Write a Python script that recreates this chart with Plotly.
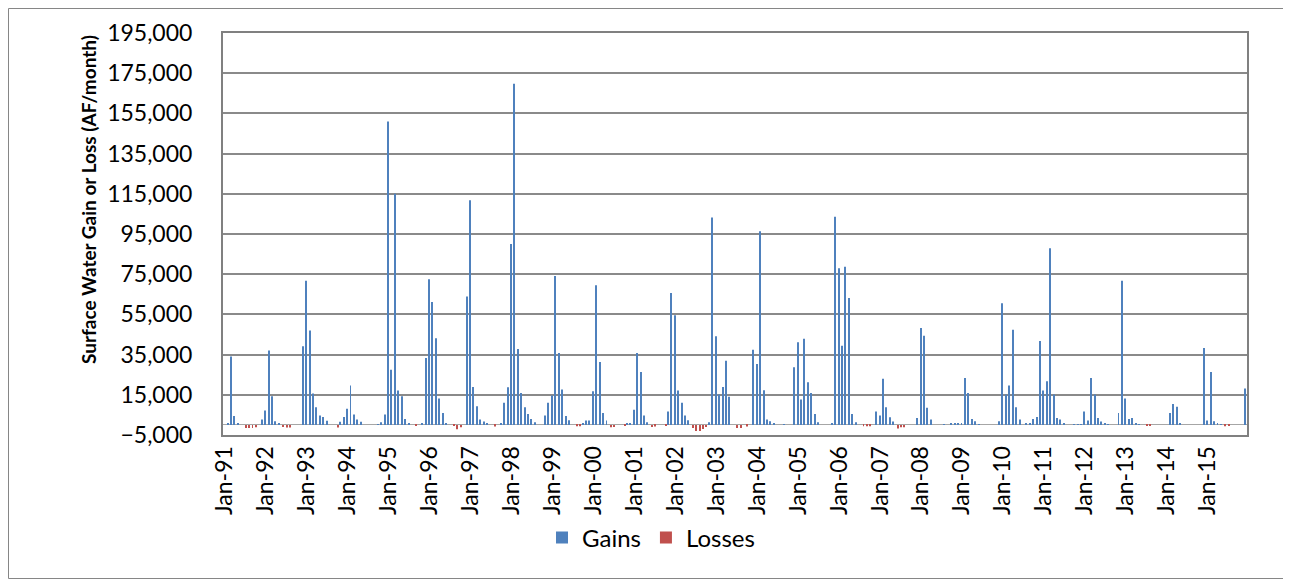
import pandas as pd
import plotly.graph_objects as go

# ── Monthly series, Jan-1991 .. Dec-2015 (AF/month), one row per year ──
months = pd.date_range("1991-01-01", periods=300, freq="MS").strftime("%b-%y").tolist()

gains = [
    0, 700, 34000, 4400, 700, 0, 0, 0, 0, 0, 0, 2700,                              # 1991
    7200, 37000, 14300, 1900, 600, 0, 0, 0, 0, 0, 0, 39100,                        # 1992
    71700, 47000, 15600, 8800, 4700, 4000, 2100, 0, 0, 0, 1600, 4000,              # 1993
    8000, 19600, 5200, 2700, 1600, 0, 0, 0, 0, 300, 1400, 5200,                    # 1994
    151000, 27500, 115000, 17100, 14300, 3000, 600, 0, 0, 0, 700, 33300,           # 1995
    72500, 61200, 43100, 13100, 6000, 1000, 0, 0, 0, 0, 0, 63900,                  # 1996
    111800, 18900, 9300, 2700, 1700, 700, 0, 0, 0, 500, 11000, 18700,              # 1997
    90000, 169700, 37800, 15900, 8800, 5400, 3000, 1400, 0, 0, 4700, 11000,        # 1998
    14600, 74100, 35800, 17600, 4400, 2400, 0, 0, 0, 500, 2200, 2200,              # 1999
    16800, 69500, 31300, 6000, 2200, 0, 0, 0, 0, 0, 700, 1000,                     # 2000
    7600, 35800, 26400, 4700, 1400, 0, 0, 0, 0, 0, 6700, 65600,                    # 2001
    54600, 17100, 11000, 4700, 2400, 0, 0, 0, 0, 0, 1400, 103200,                  # 2002
    44100, 15100, 18900, 32000, 14000, 0, 0, 0, 0, 0, 0, 37400,                    # 2003
    30300, 96400, 17300, 2700, 1900, 1000, 0, 0, 300, 0, 0, 28700,                 # 2004
    41100, 12600, 42900, 21200, 15900, 5500, 1400, 0, 0, 0, 700, 103600,           # 2005
    77900, 39400, 78700, 63100, 5500, 1400, 0, 0, 0, 0, 0, 6700,                   # 2006
    4700, 23000, 8800, 3800, 1700, 0, 0, 0, 0, 0, 0, 3400,                         # 2007
    48200, 44400, 8500, 2700, 0, 0, 0, 300, 0, 1000, 1000, 1000,                   # 2008
    1000, 23400, 15900, 3000, 1900, 300, 0, 0, 0, 0, 0, 1900,                      # 2009
    60600, 15100, 19600, 47400, 8800, 2700, 0, 500, 500, 3000, 4000, 41800,        # 2010
    17100, 21700, 87900, 15100, 3500, 2700, 700, 0, 0, 300, 300, 300,              # 2011
    6700, 2200, 23400, 15100, 3500, 1700, 700, 300, 0, 0, 6000, 71800,             # 2012
    13100, 3000, 3500, 700, 300, 0, 0, 0, 0, 0, 0, 0,                              # 2013
    0, 6000, 10400, 9000, 600, 0, 0, 0, 0, 0, 0, 38300,                            # 2014
    2200, 26400, 1900, 600, 300, 0, 0, 0, 0, 0, 0, 18100,                          # 2015
]

losses = [
    0, 0, 0, 0, 0, 0, -1500, -1500, -1500, -1200, 0, 0,          # 1991
    0, 0, 0, 0, 0, -1000, -1300, -1300, 0, 0, 0, 0,              # 1992
    0, 0, 0, 0, 0, 0, 0, 0, 0, -1300, 0, 0,                      # 1993
    0, 0, 0, 0, 0, 0, 0, 0, 0, 0, 0, 0,                          # 1994
    0, 0, 0, 0, 0, 0, 0, 0, -300, 0, 0, 0,                       # 1995
    0, 0, 0, 0, 0, 0, 0, -500, -2200, -1200, 0, 0,               # 1996
    0, 0, 0, 0, 0, 0, 0, -800, 0, 0, 0, 0,                       # 1997
    0, 0, 0, 0, 0, 0, 0, 0, 0, 0, 0, 0,                          # 1998
    0, 0, 0, 0, 0, 0, 0, -600, -600, 0, 0, 0,                    # 1999
    0, 0, 0, 0, 0, -1200, -1000, 0, 0, -500, 0, 0,               # 2000
    0, 0, 0, 0, 0, -1000, -800, 0, 0, -400, 0, 0,                # 2001
    0, 0, 0, 0, 0, -1500, -3000, -3000, -2000, -1000, 0, 0,      # 2002
    0, 0, 0, 0, 0, 0, -1500, -1500, 0, -800, 0, 0,               # 2003
    0, 0, 0, 0, 0, 0, 0, 0, 0, 0, 0, 0,                          # 2004
    0, 0, 0, 0, 0, 0, 0, 0, 0, 0, 0, 0,                          # 2005
    0, 0, 0, 0, 0, 0, 0, -600, -700, -600, 0, 0,                 # 2006
    0, 0, 0, 0, 0, -1800, -1200, -1200, 0, 0, 0, 0,              # 2007
    0, 0, 0, 0, 0, 0, 0, 0, 0, 0, 0, 0,                          # 2008
    0, 0, 0, 0, 0, 0, 0, 0, 0, 0, 0, 0,                          # 2009
    0, 0, 0, 0, 0, 0, 0, 0, 0, 0, 0, 0,                          # 2010
    0, 0, 0, 0, 0, 0, 0, 0, 0, 0, 0, 0,                          # 2011
    0, 0, 0, 0, 0, 0, 0, 0, 0, 0, 0, 0,                          # 2012
    0, 0, 0, 0, 0, 0, -300, -300, 0, 0, 0, 0,                    # 2013
    0, 0, 0, 0, 0, 0, 0, 0, 0, 0, 0, 0,                          # 2014
    0, 0, 0, 0, 0, -600, -500, 0, 0, 0, 0, 0,                    # 2015
]

x_ticks = months[::12]                       # Jan-91 ... Jan-15
y_ticks = list(range(-5000, 195001, 20000))

# ── style ──
CLR_GAIN = "#4F81BD"
CLR_LOSS = "#C0504D"
AXIS = "#808080"
GRID = "#8a8a8a"
FONT = "Lato, Open Sans, sans-serif"

# page body has an 8px margin: the figure is drawn at (8, 8) in the window
OFF = 8
W, H = 1291 - OFF, 579 - OFF
ML, MT = 223 - OFF, 33 - OFF
MR = W - (1247 - OFF)
MB = H - (435 - OFF)
PW, PH = W - ML - MR, H - MT - MB


def px_x(x):
    """window pixel x -> paper x"""
    return (x - OFF - ML) / PW


def px_y(y):
    """window pixel y -> paper y"""
    return (H - MB - (y - OFF)) / PH


fig = go.Figure()
fig.add_trace(go.Bar(x=months, y=gains, name="Gains", marker=dict(color=CLR_GAIN, line=dict(width=0))))
fig.add_trace(go.Bar(x=months, y=losses, name="Losses", marker=dict(color=CLR_LOSS, line=dict(width=0))))

fig.update_layout(
    width=W, height=H,
    margin=dict(l=ML, r=MR, t=MT, b=MB, autoexpand=False),
    paper_bgcolor="white", plot_bgcolor="white",
    font=dict(family=FONT, size=23, color="#000000"),
    barmode="group", bargap=0.42, bargroupgap=0,
    legend=dict(orientation="h", x=px_x(651), xanchor="center",
                y=px_y(538), yanchor="middle",
                font=dict(size=24), itemwidth=30, bgcolor="rgba(0,0,0,0)"),
    xaxis=dict(type="category", tickmode="array", tickvals=x_ticks, ticktext=x_ticks,
               tickangle=-90, showgrid=False, ticks="",
               showline=True, linecolor=AXIS, linewidth=2, mirror=True,
               tickfont=dict(size=23)),
    yaxis=dict(range=[-5000, 195000], tickmode="array", tickvals=y_ticks,
               tickformat=",", showgrid=True, gridcolor=GRID, gridwidth=1.5,
               zeroline=True, zerolinecolor="#a6a6a6", zerolinewidth=1,
               showline=True, linecolor=AXIS, linewidth=2, mirror=True,
               ticks="", ticklabelstandoff=24, tickfont=dict(size=23)),
)

# y-axis title (sits a bit above the plot-area centre, as in the source)
fig.add_annotation(
    text="<b>Surface Water Gain or Loss (AF/month)</b>",
    xref="paper", yref="paper", x=px_x(88), y=px_y(200),
    xanchor="center", yanchor="middle", textangle=-90, showarrow=False,
    font=dict(family=FONT, size=19, color="#000000"),
)

# chart-area border
fig.add_shape(type="rect", xref="paper", yref="paper",
              x0=px_x(OFF + 0.5), x1=px_x(1290.5 - OFF + OFF),
              y0=px_y(578.5), y1=px_y(OFF + 0.5),
              line=dict(color="#868686", width=1), layer="below")

fig.write_html("out.html")
